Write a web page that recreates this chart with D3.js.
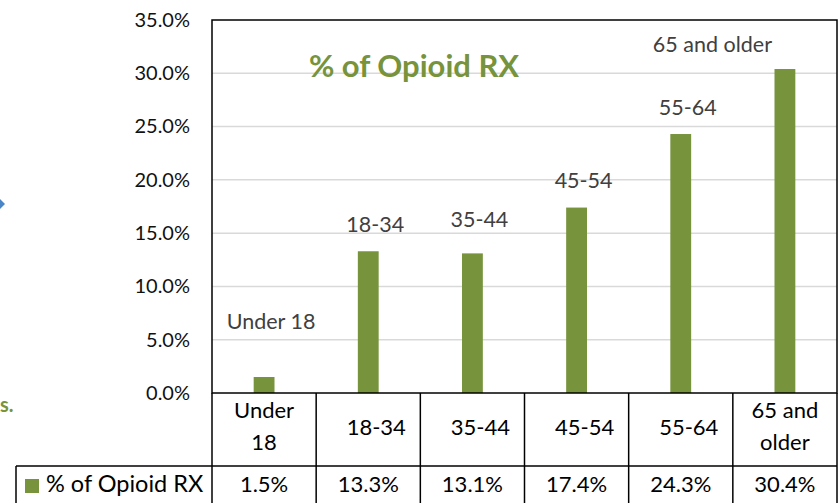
<!DOCTYPE html>
<html>
<head>
<meta charset="utf-8">
<script src="https://cdn.jsdelivr.net/npm/d3@7"></script>
<style>
  body { margin: 0; background: #fff; }
  svg { display: block; font-family: Lato, "Open Sans", sans-serif; }
</style>
</head>
<body>
<div id="chart"></div>
<script>
/* data */
var categories = ["Under 18", "18-34", "35-44", "45-54", "55-64", "65 and older"];
var headerLines = [["Under", "18"], ["18-34"], ["35-44"], ["45-54"], ["55-64"], ["65 and", "older"]];
var opioidRx = [1.5, 13.3, 13.1, 17.4, 24.3, 30.4];
var labelLevel = [6.0, 15.1, 15.6, 19.2, 26.1, 32.0]; // where the category labels sit, in % units
var yTicks = [0, 5, 10, 15, 20, 25, 30, 35];
var seriesName = "% of Opioid RX";

/* constants */
var width = 839, height = 503;
var plot = {left: 212, right: 837, top: 20, bottom: 393};
var tableRow = 466;
var legendLeft = 16;
var green = "#77933c";

var svg = d3.select("#chart").append("svg")
    .attr("width", width)
    .attr("height", height);

var y = d3.scaleLinear().domain([0, 35]).range([plot.bottom, plot.top]);
var cols = d3.scaleBand().domain(categories).range([plot.left, plot.right]);
var bars = d3.scaleBand().domain(categories).range([plot.left, plot.right])
    .paddingInner(0.8).paddingOuter(0.4);

// gridlines
svg.append("g").selectAll("line")
    .data(yTicks.filter(function(d){ return d > 0 && d < 35; }))
    .enter().append("line")
    .attr("x1", plot.left).attr("x2", plot.right)
    .attr("y1", function(d){ return y(d); })
    .attr("y2", function(d){ return y(d); })
    .attr("stroke", "#d9d9d9")
    .attr("stroke-width", 1.5);

// y axis labels
var yAxis = svg.append("g")
    .attr("transform", "translate(" + plot.left + ",0)")
    .call(d3.axisLeft(y).tickValues(yTicks).tickSize(0).tickPadding(22)
        .tickFormat(function(d){ return d3.format(".1f")(d) + "%"; }));
yAxis.select(".domain").remove();
yAxis.selectAll("text")
    .attr("font-size", 20)
    .attr("font-family", "Lato")
    .attr("fill", "#111");

// bars
svg.append("g").selectAll("rect")
    .data(opioidRx)
    .enter().append("rect")
    .attr("x", function(d, i){ return bars(categories[i]); })
    .attr("width", bars.bandwidth())
    .attr("y", function(d){ return y(d); })
    .attr("height", function(d){ return y(0) - y(d); })
    .attr("fill", green);

// category labels above the bars
svg.append("g").selectAll("text")
    .data(categories)
    .enter().append("text")
    .attr("y", function(d, i){ return y(labelLevel[i]); })
    .attr("font-size", 21.5)
    .attr("fill", "#404040")
    .attr("text-anchor", "middle")
    .text(function(d){ return d; })
    .each(function(d){
        var w = this.getComputedTextLength();
        var cx = Math.min(cols(d) + cols.bandwidth() / 2 + 7, plot.right - 65 - w / 2);
        d3.select(this).attr("x", cx);
    });

// chart title
svg.append("text")
    .attr("x", 414)
    .attr("y", 77)
    .attr("text-anchor", "middle")
    .attr("font-size", 31)
    .attr("font-weight", "bold")
    .attr("fill", green)
    .text(seriesName);

// plot border
svg.append("rect")
    .attr("x", plot.left).attr("y", plot.top)
    .attr("width", plot.right - plot.left)
    .attr("height", plot.bottom - plot.top)
    .attr("fill", "none")
    .attr("stroke", "#000")
    .attr("stroke-width", 1.5);

/* data table */
var table = svg.append("g")
    .attr("stroke", "#000")
    .attr("stroke-width", 1.5);
table.append("line")
    .attr("x1", legendLeft).attr("x2", plot.right)
    .attr("y1", tableRow).attr("y2", tableRow);
table.selectAll(".vline")
    .data(categories.map(function(d){ return cols(d); }).concat([plot.right]))
    .enter().append("line")
    .attr("class", "vline")
    .attr("x1", function(d){ return d; }).attr("x2", function(d){ return d; })
    .attr("y1", plot.bottom).attr("y2", height + 5);
table.append("line")
    .attr("x1", legendLeft).attr("x2", legendLeft)
    .attr("y1", tableRow).attr("y2", height + 5);

// header cells
var headers = svg.append("g").selectAll("text")
    .data(categories)
    .enter().append("text")
    .attr("font-size", 22)
    .attr("fill", "#000")
    .attr("text-anchor", "middle");
headers.each(function(d, i){
    var lines = headerLines[i];
    var cx = cols(d) + cols.bandwidth() / 2 + (lines.length === 1 ? 8 : 0);
    var top = lines.length === 1 ? 435 : 418;
    d3.select(this).selectAll("tspan")
        .data(lines)
        .enter().append("tspan")
        .attr("x", cx)
        .attr("y", function(l, j){ return top + j * 32; })
        .text(function(l){ return l; });
});

// value cells
svg.append("g").selectAll("text")
    .data(opioidRx)
    .enter().append("text")
    .attr("x", function(d, i){ return cols(categories[i]) + cols.bandwidth() / 2; })
    .attr("y", 492)
    .attr("font-size", 22)
    .attr("fill", "#000")
    .attr("text-anchor", "middle")
    .text(function(d){ return d3.format(".1f")(d) + "%"; });

// legend key
svg.append("rect")
    .attr("x", 25).attr("y", 479)
    .attr("width", 14).attr("height", 14)
    .attr("fill", green);
svg.append("text")
    .attr("x", 46).attr("y", 492)
    .attr("font-size", 23.5)
    .attr("fill", "#000")
    .text(seriesName);

/* bits of the slide cut off at the left edge */
svg.append("text")
    .attr("x", 0).attr("y", 412)
    .attr("font-size", 20)
    .attr("font-weight", "bold")
    .attr("fill", green)
    .text("s.");
svg.append("path")
    .attr("d", "M0,199 L5,204 L0,209 Z")
    .attr("fill", "#4a86c5");
</script>
</body>
</html>
